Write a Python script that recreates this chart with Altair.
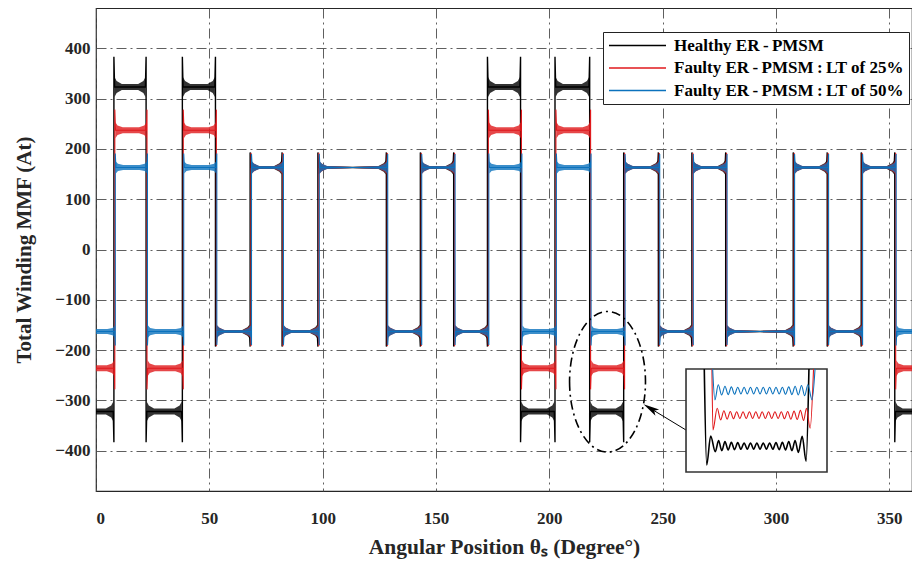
import altair as alt
import pandas as pd

# ---------------- data ----------------
series_names = ["Healthy ER\u2009-\u2009PMSM", "Faulty ER\u2009-\u2009PMSM\u2009:\u2009LT of 25%",
                "Faulty ER\u2009-\u2009PMSM\u2009:\u2009LT of 50%"]
series_colors = ["#000000", "#e0191c", "#0b72bd"]
series_width = [1.4, 1.1, 1.1]
series_edge_shift = [0.0, 0.4, 0.6]          # faulty waveforms switch slightly later (deg)

# switching angles of the winding MMF (deg)
edge_angles = [7.9, 22.1, 38.1, 52.7, 68.0, 82.1, 97.9, 128.1, 143.1, 157.8, 172.7,
               187.3, 202.5, 217.8, 232.8, 248.1, 262.9, 277.8, 307.6, 322.6, 337.6, 352.4]
# plateau type between switchings: H/L = high/low, D = curves differ, C = curves coincide
segment_states = ["LD", "HD", "LD", "HD", "LC", "HC", "LC", "HC", "LC", "HC", "LC", "HD",
                  "LD", "HD", "LD", "HC", "LC", "HC", "LC", "HC", "LC", "HC", "LD"]

# plateau levels (At), per series
level_HD = [323, 237, 163]
level_LD = [-322, -236, -163]
level_HC = [163, 163, 163]
level_LC = [-163, -163, -163]
# overshoot peaks at the switching edges (At)
peak_HD = [383, 278, 191]
peak_LD = [-383, -278, -191]
peak_HC = [193, 192, 190]
peak_LC = [-193, -192, -190]
# ripple envelope half-widths (At): near the edges / mid plateau
ripple_edge_diff = [20, 16, 12]
ripple_mid_diff = [6, 6, 5]
ripple_edge_conv = [14, 13, 12]
ripple_mid_conv = [3, 3, 3]

# zoomed inset (deg, At)
inset_black_x = [217.78, 218.12, 218.68, 219.33, 219.8, 220.25, 220.7, 221.15, 221.6, 222.05,
                 222.5, 222.95, 223.4, 223.85, 224.3, 224.75, 225.2, 225.65, 226.1, 226.55,
                 227.0, 227.45, 227.9, 228.35, 228.8, 229.25, 229.7, 230.15, 230.6, 231.05,
                 231.6, 232.15, 232.55]
inset_black_y = [-102, -376, -293, -338, -306, -335, -309, -333, -311, -332, -312, -331, -313,
                 -331, -313, -331, -313, -331, -313, -331, -313, -331, -312, -332, -311, -333,
                 -309, -335, -306, -340, -294, -365, -102]
inset_red_x = [218.86, 219.0, 219.6, 220.09, 220.55, 221.0, 221.45, 221.9, 222.35, 222.8, 223.25,
               223.7, 224.15, 224.6, 225.05, 225.5, 225.95, 226.4, 226.85, 227.3, 227.75, 228.2,
               228.65, 229.1, 229.55, 230.0, 230.45, 230.9, 231.35, 231.8, 232.2, 232.72, 233.2]
inset_red_y = [-102, -276, -214, -247, -221, -245, -223, -244, -224, -243, -224, -243, -224,
               -243, -224, -243, -224, -243, -224, -243, -224, -243, -224, -244, -223, -245,
               -222, -246, -220, -249, -214, -271, -102]
inset_blue_x = [218.96, 219.28, 219.75, 220.23, 220.7, 221.15, 221.6, 222.05, 222.5, 222.95,
                223.4, 223.85, 224.3, 224.75, 225.2, 225.65, 226.1, 226.55, 227.0, 227.45,
                227.9, 228.35, 228.8, 229.25, 229.7, 230.15, 230.6, 231.05, 231.5, 231.95,
                232.4, 232.99, 233.41]
inset_blue_y = [-102, -190, -147, -176, -151, -175, -153, -174, -154, -173, -154, -173, -154,
                -173, -154, -173, -154, -173, -154, -173, -154, -173, -154, -174, -153, -175,
                -151, -176, -149, -178, -147, -190, -102]

x_ticks = [0, 50, 100, 150, 200, 250, 300, 350]
y_ticks = [-400, -300, -200, -100, 0, 100, 200, 300, 400]

# ---------------- build tables ----------------
levels = {"HD": level_HD, "LD": level_LD, "HC": level_HC, "LC": level_LC}
peaks = {"HD": peak_HD, "LD": peak_LD, "HC": peak_HC, "LC": peak_LC}

line_rows, band_rows = [], []
nseg = len(segment_states)
for k, name in enumerate(series_names):
    sh = series_edge_shift[k]
    bounds = [0.0] + [a + sh for a in edge_angles] + [360.0]
    idx = 0
    for i, st in enumerate(segment_states):
        s, e = bounds[i], bounds[i + 1]
        L, P = levels[st][k], peaks[st][k]
        first, last = i == 0, i == nseg - 1
        pts = [(s, L)] if first else [(s, P), (s + 0.3, L)]
        pts += [(e, L)] if last else [(e - 0.3, L), (e, P)]
        for x, y in pts:
            line_rows.append({"series": name, "x": x, "y": y, "idx": idx})
            idx += 1
        diff = st in ("HD", "LD")
        he = ripple_edge_diff[k] if diff else ripple_edge_conv[k]
        hm = ripple_mid_diff[k] if diff else ripple_mid_conv[k]
        band = [(s, hm)] if first else [(s + 0.25, he), (s + 1.2, 0.6 * he), (s + 3.5, hm)]
        if e - s > 20:
            band.append(((s + e) / 2, 0.4 * hm))
        band += [(e, hm)] if last else [(e - 3.5, hm), (e - 1.2, 0.6 * he), (e - 0.25, he)]
        for x, h in band:
            band_rows.append({"series": name, "seg": i, "x": x, "lo": L - h, "hi": L + h})

df_line = pd.DataFrame(line_rows)
df_band = pd.DataFrame(band_rows)

inset_rows = []
for name, xs_, ys_ in zip(series_names, [inset_black_x, inset_red_x, inset_blue_x],
                          [inset_black_y, inset_red_y, inset_blue_y]):
    for j, (x, y) in enumerate(zip(xs_, ys_)):
        inset_rows.append({"series": name, "x": x, "y": y, "idx": j})
df_inset = pd.DataFrame(inset_rows)

# ---------------- chart ----------------
FONT = "Liberation Serif"
W, H = 816, 483
X_DOM, Y_DOM = [0, 360], [-480, 480]
xs = alt.Scale(domain=X_DOM, nice=False, zero=False)
ys = alt.Scale(domain=Y_DOM, nice=False, zero=False)
xaxis = alt.Axis(values=x_ticks, title="Angular Position θₛ  (Degree°)", labelPadding=19,
                 titleX=W / 2, titleY=62, titleBaseline="alphabetic", titleAlign="center",
                 titleAnchor="middle", titleFontSize=21.5)
yaxis = alt.Axis(values=y_ticks, title="Total Winding MMF (At)", labelPadding=6,
                 titleX=-72, titleY=H / 2, titleAngle=-90, titleBaseline="middle",
                 titleAlign="center", titleFontSize=21)
legend = alt.Legend(orient="none", legendX=507, legendY=24, title=None, symbolType="stroke",
                    symbolSize=3249, clipHeight=17, symbolStrokeWidth=1.5, labelFont=FONT,
                    labelFontSize=17, labelFontWeight="bold", labelColor="#000000",
                    strokeColor="#222222", fillColor="white", padding=5, rowPadding=4.5,
                    labelOffset=7, labelLimit=400)
color_scale = alt.Scale(domain=series_names, range=series_colors)

main_layers = []
for k, name in enumerate(series_names):
    band = alt.Chart(df_band).transform_filter(alt.datum.series == name).mark_area(
        color=series_colors[k], opacity=0.8
    ).encode(
        x=alt.X("x:Q", scale=xs, axis=xaxis),
        y=alt.Y("lo:Q", scale=ys, axis=yaxis),
        y2="hi:Q",
        detail="seg:N",
    )
    line = alt.Chart(df_line).transform_filter(alt.datum.series == name).mark_line(
        strokeWidth=series_width[k]
    ).encode(
        x=alt.X("x:Q", scale=xs, axis=xaxis),
        y=alt.Y("y:Q", scale=ys, axis=yaxis),
        color=alt.Color("series:N", scale=color_scale, legend=legend),
        order="idx:Q",
    )
    main_layers += [band, line]

# annotation: dash-dot ellipse, arrow and inset frame (data coordinates)
ell = alt.Chart(pd.DataFrame({"x": [225.67], "y": [-262.9]})).mark_point(
    shape="M -0.54 0 A 0.54 1 0 1 0 0.54 0 A 0.54 1 0 1 0 -0.54 0",
    size=19768, filled=False, stroke="black", strokeWidth=1.6, strokeDash=[9, 4, 2, 4], opacity=1
).encode(x=alt.X("x:Q", scale=xs, axis=xaxis), y=alt.Y("y:Q", scale=ys, axis=yaxis))

arrow_line = alt.Chart(pd.DataFrame({"x": [260.3], "x2": [244.6], "y": [-358.8], "y2": [-315.9]})).mark_rule(
    stroke="black", strokeWidth=1
).encode(x=alt.X("x:Q", scale=xs, axis=xaxis), x2="x2:Q", y=alt.Y("y:Q", scale=ys, axis=yaxis), y2="y2:Q")

arrow_head = alt.Chart(pd.DataFrame({"x": [244.6], "y": [-315.9]})).mark_point(
    shape="M 0 -1 L 0.45 1 L 0 0.55 L -0.45 1 Z", size=256, angle=301,
    filled=True, fill="black", opacity=1, strokeWidth=0
).encode(x=alt.X("x:Q", scale=xs, axis=xaxis), y=alt.Y("y:Q", scale=ys, axis=yaxis))

box_x, box_y = [260.3, 322.5], [-237.6, -442.3]
inset_box = alt.Chart(pd.DataFrame({"x": [box_x[0]], "x2": [box_x[1]], "y": [box_y[0]], "y2": [box_y[1]]})).mark_rect(
    fill="white", stroke="#333333", strokeWidth=1.6
).encode(x=alt.X("x:Q", scale=xs, axis=xaxis), x2="x2:Q", y=alt.Y("y:Q", scale=ys, axis=yaxis), y2="y2:Q")

main = alt.layer(*main_layers, ell, arrow_line, arrow_head, inset_box)

# the inset's own scales, placed on the frame above
px_x = [(v - X_DOM[0]) / (X_DOM[1] - X_DOM[0]) * W for v in box_x]
px_y = [(Y_DOM[1] - v) / (Y_DOM[1] - Y_DOM[0]) * H for v in [box_y[1], box_y[0]]]
ixs = alt.Scale(domain=[215.2, 235.1], range=px_x, nice=False, zero=False)
iys = alt.Scale(domain=[-396, -102], range=px_y, nice=False, zero=False)
inset_layers = []
for k, name in enumerate(series_names):
    inset_layers.append(
        alt.Chart(df_inset).transform_filter(alt.datum.series == name).mark_line(
            stroke=series_colors[k], strokeWidth=[1.6, 1.1, 1.1][k], interpolate="monotone"
        ).encode(
            x=alt.X("x:Q", scale=ixs, axis=None),
            y=alt.Y("y:Q", scale=iys, axis=None),
            order="idx:Q",
        )
    )
inset = alt.layer(*inset_layers)

chart = alt.layer(main, inset).resolve_scale(x="independent", y="independent").properties(
    width=W, height=H,
    padding={"left": 88, "top": 0, "right": 0, "bottom": 68},
    autosize=alt.AutoSizeParams(type="none"),
).configure_axis(
    labelFont=FONT, labelFontSize=17, labelFontWeight="bold", labelColor="#262626",
    titleFont=FONT, titleFontWeight="bold", titleColor="#262626",
    grid=True, gridColor="#4d4d4d", gridDash=[10, 4, 2, 4], gridWidth=0.9,
    domain=False, ticks=False, tickSize=0,
).configure_view(stroke="#262626", strokeWidth=1.2)

chart.save("out.html", embed_options={"renderer": "svg", "actions": False})
